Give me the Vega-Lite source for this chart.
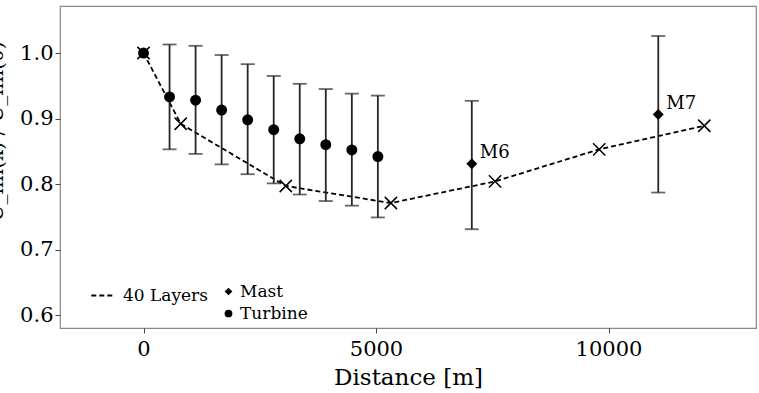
{
  "$schema": "https://vega.github.io/schema/vega-lite/v6.json",
  "autosize": {"type": "none"},
  "width": 696,
  "height": 322,
  "padding": {"left": 60, "top": 6, "right": 3, "bottom": 65},
  "background": "white",
  "config": {
    "view": {"stroke": "#888888", "strokeWidth": 1.2},
    "axis": {
      "grid": false,
      "domain": false,
      "labelFont": "DejaVu Serif",
      "labelFontSize": 21,
      "labelColor": "black",
      "tickColor": "#444444",
      "tickSize": 5,
      "titleFont": "DejaVu Serif",
      "titleFontSize": 23,
      "titleFontWeight": "normal",
      "titleColor": "black"
    },
    "legend": {
      "labelFont": "DejaVu Serif",
      "labelFontSize": 17,
      "labelColor": "black",
      "title": null
    }
  },
  "data": {
    "values": [
      {"source": "40 Layers", "dist": 0, "ratio": 1.0},
      {"source": "40 Layers", "dist": 800, "ratio": 0.892},
      {"source": "40 Layers", "dist": 3060, "ratio": 0.797},
      {"source": "40 Layers", "dist": 5320, "ratio": 0.771},
      {"source": "40 Layers", "dist": 7560, "ratio": 0.804},
      {"source": "40 Layers", "dist": 9800, "ratio": 0.853},
      {"source": "40 Layers", "dist": 12060, "ratio": 0.889},
      {"source": "Turbine", "dist": 0, "ratio": 1.0},
      {"source": "Turbine", "dist": 560, "ratio": 0.933, "lo": 0.853, "hi": 1.013},
      {"source": "Turbine", "dist": 1120, "ratio": 0.928, "lo": 0.846, "hi": 1.011},
      {"source": "Turbine", "dist": 1680, "ratio": 0.913, "lo": 0.830, "hi": 0.997},
      {"source": "Turbine", "dist": 2240, "ratio": 0.898, "lo": 0.815, "hi": 0.983},
      {"source": "Turbine", "dist": 2800, "ratio": 0.883, "lo": 0.801, "hi": 0.965},
      {"source": "Turbine", "dist": 3360, "ratio": 0.869, "lo": 0.784, "hi": 0.953},
      {"source": "Turbine", "dist": 3920, "ratio": 0.860, "lo": 0.774, "hi": 0.945},
      {"source": "Turbine", "dist": 4480, "ratio": 0.852, "lo": 0.767, "hi": 0.938},
      {"source": "Turbine", "dist": 5040, "ratio": 0.842, "lo": 0.749, "hi": 0.935},
      {"source": "Mast", "dist": 7060, "ratio": 0.831, "lo": 0.731, "hi": 0.927, "label": "M6"},
      {"source": "Mast", "dist": 11070, "ratio": 0.906, "lo": 0.787, "hi": 1.026, "label": "M7"}
    ]
  },
  "encoding": {
    "x": {
      "field": "dist",
      "type": "quantitative",
      "scale": {"domain": [-1796, 13172], "nice": false, "zero": false},
      "axis": {"values": [0, 5000, 10000], "title": "Distance [m]", "labelPadding": 5, "titlePadding": 7, "format": "d"}
    },
    "y": {
      "field": "ratio",
      "type": "quantitative",
      "scale": {"domain": [0.5802, 1.0718], "nice": false, "zero": false},
      "axis": {
        "values": [0.6, 0.7, 0.8, 0.9, 1.0],
        "format": ".1f",
        "labelPadding": 2,
        "title": "Ū_hh(x) / Ū_hh(0)",
        "titleFontSize": 20,
        "titleAngle": -90,
        "titleX": -54,
        "titleY": 125,
        "titleAlign": "center",
        "titleBaseline": "bottom"
      }
    }
  },
  "layer": [
    {
      "transform": [{"filter": "datum.source === '40 Layers'"}],
      "mark": {"type": "line", "color": "black", "strokeWidth": 1.8},
      "encoding": {
        "strokeDash": {
          "field": "source",
          "type": "nominal",
          "scale": {"domain": ["40 Layers"], "range": [[5, 3]]},
          "legend": {
            "orient": "none",
            "legendX": 30,
            "legendY": 277,
            "symbolType": "stroke",
            "symbolSize": 500,
            "symbolStrokeWidth": 1.8,
            "symbolStrokeColor": "black",
            "labelOffset": 8
          }
        }
      }
    },
    {
      "transform": [{"filter": "datum.source === '40 Layers'"}],
      "mark": {
        "type": "point",
        "shape": "M-1,-1L1,1M-1,1L1,-1",
        "size": 150,
        "filled": false,
        "stroke": "black",
        "strokeWidth": 1.5,
        "opacity": 1
      }
    },
    {
      "transform": [{"filter": "isValid(datum.hi)"}],
      "mark": {"type": "rule", "color": "#262626", "strokeWidth": 1.8},
      "encoding": {"y": {"field": "lo", "type": "quantitative"}, "y2": {"field": "hi"}}
    },
    {
      "transform": [{"filter": "isValid(datum.hi)"}],
      "mark": {"type": "tick", "orient": "horizontal", "color": "#262626", "thickness": 1.8, "size": 14},
      "encoding": {"y": {"field": "hi", "type": "quantitative"}}
    },
    {
      "transform": [{"filter": "isValid(datum.lo)"}],
      "mark": {"type": "tick", "orient": "horizontal", "color": "#262626", "thickness": 1.8, "size": 14},
      "encoding": {"y": {"field": "lo", "type": "quantitative"}}
    },
    {
      "transform": [{"filter": "datum.source !== '40 Layers'"}],
      "mark": {"type": "point", "filled": true, "color": "black", "opacity": 1, "size": 120},
      "encoding": {
        "shape": {
          "field": "source",
          "type": "nominal",
          "scale": {"domain": ["Mast", "Turbine"], "range": ["diamond", "circle"]},
          "legend": {
            "orient": "none",
            "legendX": 160,
            "legendY": 277,
            "symbolSize": 60,
            "symbolFillColor": "black",
            "symbolStrokeColor": "black",
            "labelOffset": 3,
            "rowPadding": 4
          }
        }
      }
    },
    {
      "transform": [{"filter": "isValid(datum.label)"}],
      "mark": {"type": "text", "align": "left", "baseline": "middle", "dx": 8, "dy": -11, "font": "DejaVu Serif", "fontSize": 18, "color": "black"},
      "encoding": {"text": {"field": "label"}}
    }
  ]
}
